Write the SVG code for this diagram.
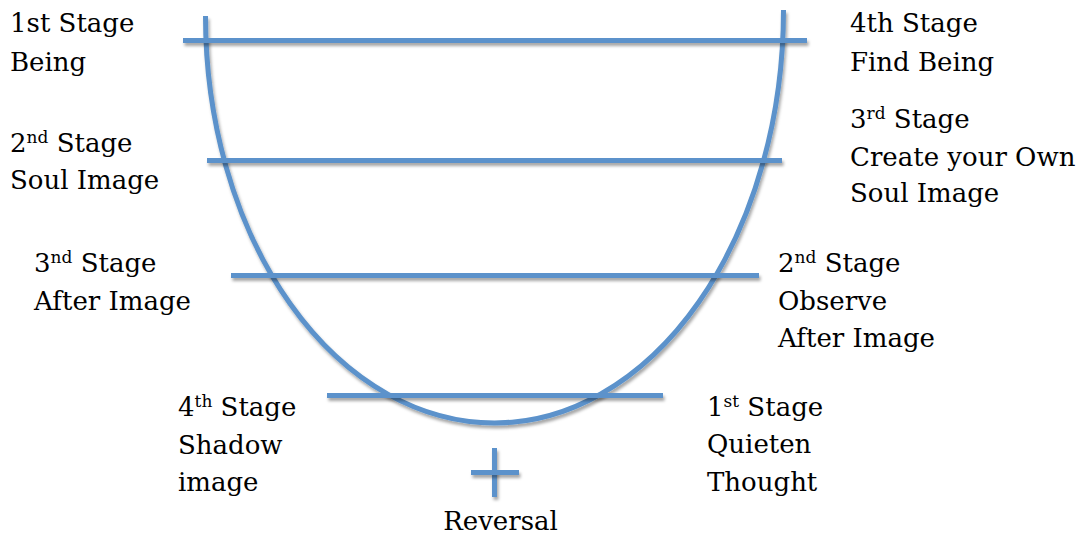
<svg xmlns="http://www.w3.org/2000/svg" width="1087" height="535" viewBox="0 0 1087 535">
<defs>
<filter id="sh" filterUnits="userSpaceOnUse" x="0" y="0" width="1087" height="535">
<feDropShadow dx="1.5" dy="3" stdDeviation="1.8" flood-color="#000" flood-opacity="0.35"/>
</filter>
</defs>
<style>
.ln{stroke:#5b92cb;stroke-width:5;fill:none;filter:url(#sh)}
.t{font-family:"DejaVu Serif","Liberation Serif",serif;font-size:26px;fill:#000}
.sup{font-size:17px}
</style>
<rect width="1087" height="535" fill="#fff"/>
<g id="connectors">
<path id="curve" class="ln" d="M 205.5 16 A 289 407 0 0 0 494.5 423 A 289 413 0 0 0 783.5 10"/>
<line class="ln" x1="183" y1="40.5" x2="807" y2="40.5"/>
<line class="ln" x1="207" y1="160.5" x2="782" y2="160.5"/>
<line class="ln" x1="231" y1="275.5" x2="759" y2="275.5"/>
<line class="ln" x1="327" y1="395.5" x2="663" y2="395.5"/>
<line class="ln" x1="494.5" y1="448" x2="494.5" y2="497"/>
<line class="ln" x1="471" y1="472.5" x2="519" y2="472.5"/>
</g>
<g id="left1"><text class="t" x="10" y="32">1st Stage</text><text class="t" x="10" y="70.5">Being</text></g>
<g id="left2"><text class="t" x="10" y="151.5">2<tspan class="sup" dy="-9">nd</tspan><tspan dy="9"> Stage</tspan></text><text class="t" x="10" y="188.5">Soul Image</text></g>
<g id="left3"><text class="t" x="34" y="271.5">3<tspan class="sup" dy="-9">nd</tspan><tspan dy="9"> Stage</tspan></text><text class="t" x="34" y="310">After Image</text></g>
<g id="left4"><text class="t" x="178" y="415.5">4<tspan class="sup" dy="-9">th</tspan><tspan dy="9"> Stage</tspan></text><text class="t" x="178" y="453.5">Shadow</text><text class="t" x="178" y="491">image</text></g>
<g id="right1"><text class="t" x="850" y="32">4th Stage</text><text class="t" x="850" y="70.5">Find Being</text></g>
<g id="right2"><text class="t" x="850" y="128">3<tspan class="sup" dy="-9">rd</tspan><tspan dy="9"> Stage</tspan></text><text class="t" x="850" y="165.5">Create your Own</text><text class="t" x="850" y="202">Soul Image</text></g>
<g id="right3"><text class="t" x="778" y="271.5">2<tspan class="sup" dy="-9">nd</tspan><tspan dy="9"> Stage</tspan></text><text class="t" x="778" y="310">Observe</text><text class="t" x="778" y="346.5">After Image</text></g>
<g id="right4"><text class="t" x="707" y="415.5">1<tspan class="sup" dy="-9">st</tspan><tspan dy="9"> Stage</tspan></text><text class="t" x="707" y="453">Quieten</text><text class="t" x="707" y="490.5">Thought</text></g>
<g id="reversal"><text class="t" x="500.5" y="530" text-anchor="middle">Reversal</text></g>
</svg>
